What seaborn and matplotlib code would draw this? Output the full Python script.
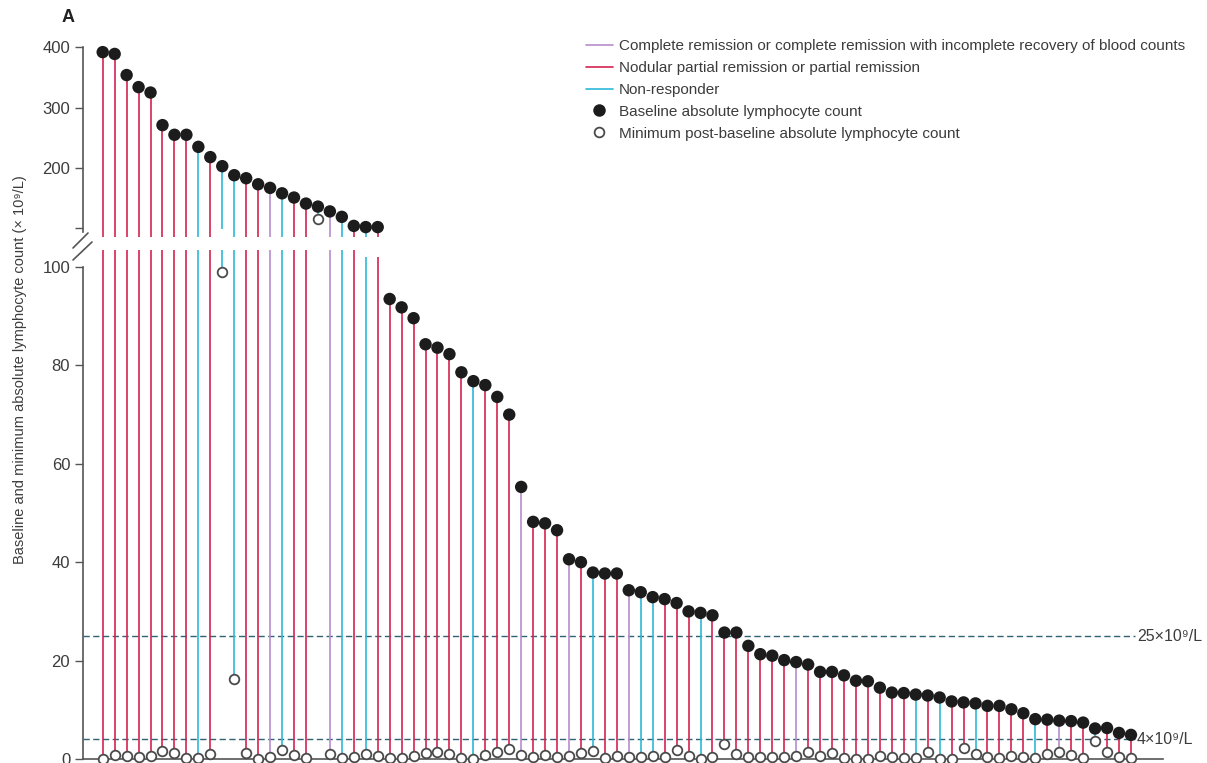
import numpy as np
import matplotlib
matplotlib.use("Agg")
import matplotlib.pyplot as plt
from matplotlib.lines import Line2D
import seaborn as sns

# ---------------- data ----------------
baseline = [392, 389, 354, 334, 325, 271, 255, 255, 235, 218, 203, 188, 183, 173,
            167, 158, 151, 141, 136, 128, 119, 104, 102, 102,
            93.5, 91.8, 89.6, 84.3, 83.6, 82.3, 78.6, 76.8, 76.0, 73.6,
            70.0, 55.3, 48.2, 47.9, 46.5, 40.6, 40.0, 37.9, 37.7, 37.7,
            34.3, 33.9, 32.9, 32.5, 31.7, 30.0, 29.7, 29.2, 25.7, 25.7,
            23.0, 21.3, 21.0, 20.1, 19.7, 19.2, 17.7, 17.7, 17.0, 15.9,
            15.8, 14.5, 13.5, 13.4, 13.1, 12.9, 12.5, 11.7, 11.5, 11.3,
            10.8, 10.8, 10.1, 9.3, 8.1, 8.0, 7.8, 7.7, 7.4, 6.2, 6.3, 5.3, 4.9]

minimum = [0.1, 0.8, 0.7, 0.5, 0.6, 1.6, 1.2, 0.3, 0.3, 1.0, 99.0, 16.3, 1.3, 0.1,
           0.5, 1.9, 0.75, 0.3, 114.7, 0.95, 0.2, 0.5, 1.0, 0.7,
           0.3, 0.3, 0.6, 1.15, 1.4, 0.95, 0.3, 0.1, 0.8, 1.5,
           2.0, 0.75, 0.5, 0.8, 0.5, 0.55, 1.15, 1.7, 0.3, 0.6,
           0.5, 0.5, 0.6, 0.5, 1.8, 0.6, 0.1, 0.4, 3.0, 0.95,
           0.5, 0.5, 0.5, 0.5, 0.55, 1.35, 0.55, 1.2, 0.3, 0.1,
           0.1, 0.7, 0.4, 0.3, 0.3, 1.5, 0.0, 0.1, 2.2, 0.95,
           0.5, 0.3, 0.6, 0.5, 0.2, 0.95, 1.5, 0.8, 0.2, 3.7, 1.5, 0.5, 0.3]

CR, PR, NR = "CR", "PR", "NR"
response = ([PR] * 8 + [NR, PR, NR, NR, PR, PR, CR, NR, PR, PR, NR, CR, NR, PR, NR, PR]
            + [PR] * 7 + [NR, PR, PR, PR, CR, PR, PR, PR, CR, PR, NR, PR, PR, CR, NR, NR, PR, PR, PR, NR]
            + [PR] * 7 + [CR] + [PR] * 9 + [NR, PR, NR, PR, PR, NR]
            + [PR] * 4 + [NR, PR, CR, PR, PR, NR] + [PR] * 3)

legend_labels = {
    CR: "Complete remission or complete remission with incomplete recovery of blood counts",
    PR: "Nodular partial remission or partial remission",
    NR: "Non-responder",
}
threshold_values = [25, 4]
threshold_labels = ["25×10⁹/L", "4×10⁹/L"]
top_ticks = [100, 200, 300, 400]
top_ticklabels = ["", "200", "300", "400"]
bottom_ticks = [0, 20, 40, 60, 80, 100]

# ---------------- style ----------------
colors = {CR: "#b68ccc", PR: "#d42350", NR: "#2db8d8"}
sns.set_style("white")
plt.rcParams["font.family"] = ["Liberation Sans", "DejaVu Sans"]
TXT = "#3c3c3c"

W, H = 1207, 763
fig = plt.figure(figsize=(W / 100, H / 100), dpi=100)

left = 82.7 / W
right = 1163 / W
ax_b = fig.add_axes([left, (H - 759) / H, right - left, (759 - 250) / H])
ax_t = fig.add_axes([left, (H - 237) / H, right - left, (237 - 40) / H])

x = np.arange(len(baseline))
base = np.array(baseline, dtype=float)
mn = np.array(minimum, dtype=float)
col = np.array([colors[r] for r in response])
xlim = (-1.673, 88.68)

hi = base >= 100
lo = ~hi
mhi = mn >= 100
mlo = ~mhi

# stems: top panel only for patients whose baseline sits in the upper segment
ax_t.vlines(x[hi], mn[hi], base[hi], colors=col[hi], linewidth=1.2, zorder=1)
ax_b.vlines(x, mn, base, colors=col, linewidth=1.2, zorder=1)

for ax in (ax_b, ax_t):
    ax.set_xlim(*xlim)
    for s in ["top", "right"]:
        ax.spines[s].set_visible(False)
    ax.spines["left"].set_color("#555555")
    ax.spines["left"].set_linewidth(1.2)
    ax.tick_params(axis="y", direction="out", length=6, width=1.0, color="#555555",
                   labelsize=12, labelcolor=TXT, pad=3, left=True)
    ax.set_xticks([])
    ax.set_facecolor("none")

ax_b.set_ylim(0, 103.46)
ax_t.set_ylim(85.6, 412.1)

# baseline dots
sns.scatterplot(x=x[hi], y=base[hi], ax=ax_t, color="#1c1c1c", s=80, edgecolor="none",
                legend=False, clip_on=False, zorder=4)
sns.scatterplot(x=x[lo], y=base[lo], ax=ax_b, color="#1c1c1c", s=80, edgecolor="none",
                legend=False, clip_on=False, zorder=4)
# minimum circles
sns.scatterplot(x=x[mhi], y=mn[mhi], ax=ax_t, color="white", s=48, edgecolor="#4a4a4a",
                linewidth=1.3, legend=False, clip_on=False, zorder=5)
sns.scatterplot(x=x[mlo], y=mn[mlo], ax=ax_b, color="white", s=48, edgecolor="#4a4a4a",
                linewidth=1.3, legend=False, clip_on=False, zorder=5)

# thresholds
for v, lab in zip(threshold_values, threshold_labels):
    ax_b.hlines(v, xlim[0], 86.3, colors="#2f6272", linestyles=(0, (4.5, 2.5)),
                linewidth=1.0, zorder=0)
    ax_b.text(86.5, v, lab, va="center", ha="left", fontsize=11.5, color=TXT, clip_on=False)

# axes / spines
ax_t.spines["bottom"].set_visible(False)
ax_t.set_yticks(top_ticks)
ax_t.set_yticklabels(top_ticklabels)
ax_t.spines["left"].set_bounds(94, 400)
ax_b.set_yticks(bottom_ticks)
ax_b.spines["left"].set_bounds(0, 100)
ax_b.spines["bottom"].set_color("#555555")
ax_b.spines["bottom"].set_linewidth(1.2)

# axis break marks
for (x0, y0, x1, y1) in [(73, 248, 88, 233), (73, 260, 92, 242)]:
    fig.add_artist(Line2D([x0 / W, x1 / W], [1 - y0 / H, 1 - y1 / H],
                          color="#555555", linewidth=1.2, transform=fig.transFigure))

# y label
fig.text(20 / W, 1 - 370 / H, "Baseline and minimum absolute lymphocyte count (× 10⁹/L)",
         rotation=90, ha="center", va="center", fontsize=10.5, color=TXT)
fig.text(68 / W, 1 - 18 / H, "A", ha="center", va="center", fontsize=13,
         fontweight="bold", color="#222222")

# legend
handles = [Line2D([0], [0], color=colors[CR], lw=1.2),
           Line2D([0], [0], color=colors[PR], lw=1.2),
           Line2D([0], [0], color=colors[NR], lw=1.2),
           Line2D([0], [0], marker="o", linestyle="none", markerfacecolor="#1c1c1c",
                  markeredgecolor="none", markersize=9),
           Line2D([0], [0], marker="o", linestyle="none", markerfacecolor="white",
                  markeredgecolor="#4a4a4a", markeredgewidth=1.3, markersize=7)]
labels = [legend_labels[CR], legend_labels[PR], legend_labels[NR],
          "Baseline absolute lymphocyte count",
          "Minimum post-baseline absolute lymphocyte count"]
fig.legend(handles, labels, loc="upper left", bbox_to_anchor=(586 / W, 1 - 39 / H),
           bbox_transform=fig.transFigure, frameon=False, fontsize=11.0,
           handlelength=1.75, handletextpad=0.4, labelspacing=0.52,
           borderpad=0, borderaxespad=0, labelcolor=TXT)

fig.savefig("out.png", dpi=100)
